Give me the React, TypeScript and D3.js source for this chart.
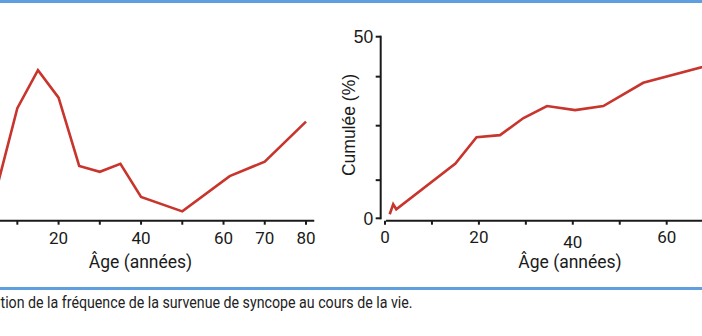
import React, { useEffect, useRef } from "react";
import * as d3 from "d3";

// Left panel: frequency by age (no visible y axis)
const leftAges = [5, 10, 15, 20, 25, 30, 35, 40, 50, 61.5, 70, 80];
const leftValues = [8.3, 30.3, 40.8, 33.2, 14.4, 12.8, 15.0, 5.9, 1.9, 11.6, 15.6, 26.6];
const leftTicks = [10, 20, 30, 40, 50, 60, 70, 80];
const leftTickLabels = ["", "20", "", "40", "", "60", "70", "80"];

// Right panel: cumulative %
const rightAges = [1, 1.75, 2.4, 15, 19.5, 24.5, 29.5, 34.5, 40.5, 46.5, 55, 70];
const rightValues = [1.1, 3.85, 2.5, 15.1, 22.3, 22.9, 27.6, 30.9, 29.8, 30.9, 37.3, 42.5];
const rightXTicks = [0, 10, 20, 30, 40, 50, 60, 70];
const rightXTickLabels = ["0", "", "20", "", "40", "", "60", ""];
const rightYTicks = [0, 10.5, 25.5, 39, 50];
const rightYTickLabels = ["0", "", "", "", "50"];

const xLabel = "Âge (années)";
const yLabelRight = "Cumulée (%)";
const caption = "tion de la fréquence de la survenue de syncope au cours de la vie.";

const RED = "#c8352c";
const AX = "#1a1a1a";
const BLUE = "#5f9fe0";
const DIN = "Roboto, 'DejaVu Sans', sans-serif";
const HELV = "'Liberation Sans', Arial, sans-serif";

export default function App() {
  const ref = useRef<SVGSVGElement | null>(null);

  useEffect(() => {
    const svg = d3.select(ref.current);
    svg.selectAll("*").remove();

    svg.append("rect").attr("width", 702).attr("height", 336).attr("fill", "#fff");

    // blue rules
    svg.append("line").attr("x1", 0).attr("x2", 702).attr("y1", 1.5).attr("y2", 1.5)
      .attr("stroke", BLUE).attr("stroke-width", 3);
    svg.append("line").attr("x1", 0).attr("x2", 702).attr("y1", 288.5).attr("y2", 288.5)
      .attr("stroke", BLUE).attr("stroke-width", 3);

    const axisY = 220.7;

    // ---------- Left panel ----------
    const xL = d3.scaleLinear().domain([0, 80]).range([-23.9, 306]);
    const yL = d3.scaleLinear().domain([0, 50]).range([218.3, 36.7]);

    const gL = svg.append("g");
    gL.append("line").attr("x1", 0).attr("x2", xL(82)).attr("y1", axisY).attr("y2", axisY)
      .attr("stroke", AX).attr("stroke-width", 2);
    leftTicks.forEach((t, i) => {
      gL.append("line").attr("x1", xL(t)).attr("x2", xL(t)).attr("y1", axisY).attr("y2", axisY + 4)
        .attr("stroke", AX).attr("stroke-width", 2);
      if (leftTickLabels[i]) {
        gL.append("text").attr("x", xL(t)).attr("y", 243.5).attr("text-anchor", "middle")
          .attr("font-family", DIN).attr("font-size", 17).attr("fill", AX).text(leftTickLabels[i]);
      }
    });
    gL.append("text").attr("x", 140.5).attr("y", 267.5).attr("text-anchor", "middle")
      .attr("font-family", DIN).attr("font-size", 17.5).attr("fill", AX).text(xLabel);

    const lineL = d3.line<number>().x((_, i) => xL(leftAges[i])).y((v) => yL(v));
    gL.append("path").attr("d", lineL(leftValues) as string).attr("fill", "none")
      .attr("stroke", RED).attr("stroke-width", 2.6).attr("stroke-linejoin", "miter");

    // ---------- Right panel ----------
    const xR = d3.scaleLinear().domain([0, 60]).range([385, 666.7]);
    const yR = d3.scaleLinear().domain([0, 50]).range([218.3, 36.7]);
    const axX = 380.7;

    const gR = svg.append("g");
    gR.append("line").attr("x1", axX).attr("x2", axX).attr("y1", yR(0) + 1).attr("y2", yR(50) - 1)
      .attr("stroke", AX).attr("stroke-width", 2);
    rightYTicks.forEach((t, i) => {
      gR.append("line").attr("x1", axX - 5).attr("x2", axX).attr("y1", yR(t)).attr("y2", yR(t))
        .attr("stroke", AX).attr("stroke-width", 2);
      if (rightYTickLabels[i]) {
        gR.append("text").attr("x", axX - 7.5).attr("y", yR(t)).attr("dy", "0.36em")
          .attr("text-anchor", "end").attr("font-family", HELV).attr("font-size", 17.5)
          .attr("fill", AX).text(rightYTickLabels[i]);
      }
    });
    gR.append("text")
      .attr("transform", `translate(354.5,125) rotate(-90)`)
      .attr("text-anchor", "middle").attr("font-family", HELV).attr("font-size", 17.5)
      .attr("fill", AX).text(yLabelRight);

    gR.append("line").attr("x1", 386).attr("x2", 710).attr("y1", axisY).attr("y2", axisY)
      .attr("stroke", AX).attr("stroke-width", 2);
    rightXTicks.forEach((t, i) => {
      gR.append("line").attr("x1", xR(t)).attr("x2", xR(t)).attr("y1", axisY).attr("y2", axisY + 4)
        .attr("stroke", AX).attr("stroke-width", 2);
      if (rightXTickLabels[i]) {
        gR.append("text").attr("x", xR(t)).attr("y", rightXTickLabels[i] === "40" ? 247.5 : 243)
          .attr("text-anchor", "middle").attr("font-family", DIN).attr("font-size", 17)
          .attr("fill", AX).text(rightXTickLabels[i]);
      }
    });
    gR.append("text").attr("x", 570).attr("y", 267.5).attr("text-anchor", "middle")
      .attr("font-family", DIN).attr("font-size", 17.5).attr("fill", AX).text(xLabel);

    const lineR = d3.line<number>().x((_, i) => xR(rightAges[i])).y((v) => yR(v));
    gR.append("path").attr("d", lineR(rightValues) as string).attr("fill", "none")
      .attr("stroke", RED).attr("stroke-width", 2.6).attr("stroke-linejoin", "miter");

    // caption (visible part of the figure legend)
    svg.append("text").attr("x", 0.5).attr("y", 307.5)
      .attr("textLength", 412).attr("lengthAdjust", "spacingAndGlyphs")
      .attr("font-family", DIN).attr("font-size", 16).attr("fill", "#222").text(caption);
  }, []);

  return (
    <svg
      ref={ref}
      width={702}
      height={336}
      style={{ position: "absolute", left: 0, top: 0, display: "block" }}
    />
  );
}
